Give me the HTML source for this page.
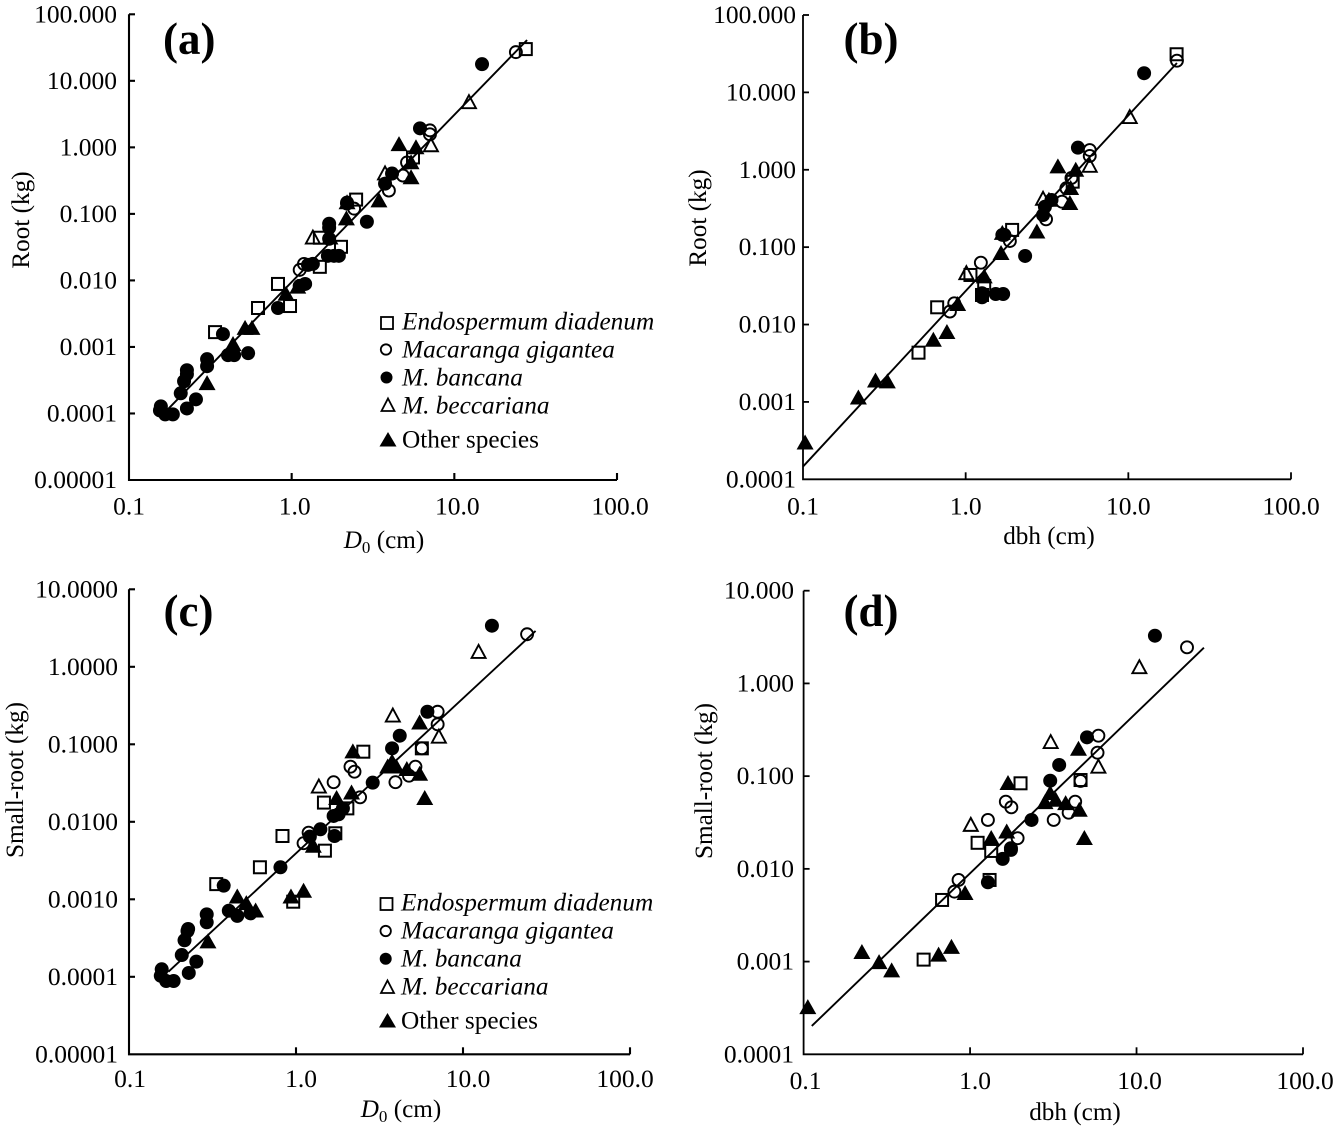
<!DOCTYPE html>
<html lang="en">
<head>
<meta charset="utf-8">
<title>Root biomass allometry</title>
<style>
html,body{margin:0;padding:0;background:#fff;}
svg{display:block;}
text{font-family:"Liberation Serif",serif;fill:#000;}
.tick{font-size:25.5px;}
.title{font-size:25.2px;}
.letter{font-size:45px;font-weight:bold;}
.leg{font-size:25.3px;font-style:italic;}
.legn{font-size:25.3px;}
</style>
</head>
<body>
<svg id="chart" xmlns="http://www.w3.org/2000/svg" width="1336" height="1128" viewBox="0 0 1336 1128">
  <rect width="1336" height="1128" fill="#fff"/>
  <text class="letter" x="163" y="54">(a)</text>
  <text class="letter" x="843.5" y="54">(b)</text>
  <text class="letter" x="163.5" y="626">(c)</text>
  <text class="letter" x="843.5" y="626">(d)</text>

  <text class="title" transform="translate(29,220) rotate(-90)" text-anchor="middle">Root (kg)</text>
  <text class="title" transform="translate(706,218) rotate(-90)" text-anchor="middle">Root (kg)</text>
  <text class="title" transform="translate(23,780) rotate(-90)" text-anchor="middle">Small-root (kg)</text>
  <text class="title" transform="translate(712,781) rotate(-90)" text-anchor="middle">Small-root (kg)</text>

  <text class="title" x="384" y="548" text-anchor="middle"><tspan font-style="italic">D</tspan><tspan font-size="17" dy="5">0</tspan><tspan dy="-5"> (cm)</tspan></text>
  <text class="title" x="1049" y="544" text-anchor="middle">dbh (cm)</text>
  <text class="title" x="401" y="1117" text-anchor="middle"><tspan font-style="italic">D</tspan><tspan font-size="17" dy="5">0</tspan><tspan dy="-5"> (cm)</tspan></text>
  <text class="title" x="1075" y="1120" text-anchor="middle">dbh (cm)</text>

  <g stroke="#000">
    <rect x="381" y="317" width="12" height="12" fill="none" stroke-width="1.8"/>
    <text class="leg" x="402" y="329.5" stroke="none">Endospermum diadenum</text>
    <circle cx="386" cy="349.5" r="5.2" fill="none" stroke-width="1.8"/>
    <text class="leg" x="402" y="357.5" stroke="none">Macaranga gigantea</text>
    <circle cx="386.5" cy="377.5" r="6" fill="#000" stroke="none"/>
    <text class="leg" x="402" y="385.5" stroke="none">M. bancana</text>
    <path d="M388 398.5 L394.5 411 L381.5 411 Z" fill="none" stroke-width="1.8"/>
    <text class="leg" x="402" y="413.5" stroke="none">M. beccariana</text>
    <path d="M388 432 L396.5 446.5 L379.5 446.5 Z" fill="#000" stroke="none"/>
    <text class="legn" x="402" y="447.5" stroke="none">Other species</text>
  </g>
  <g stroke="#000">
    <rect x="380.5" y="898" width="12" height="12" fill="none" stroke-width="1.8"/>
    <text class="leg" x="401" y="910.5" stroke="none">Endospermum diadenum</text>
    <circle cx="385.7" cy="931" r="5.2" fill="none" stroke-width="1.8"/>
    <text class="leg" x="401" y="938.5" stroke="none">Macaranga gigantea</text>
    <circle cx="385.7" cy="958.7" r="6" fill="#000" stroke="none"/>
    <text class="leg" x="401" y="966.5" stroke="none">M. bancana</text>
    <path d="M387.5 980.5 L394 993 L381 993 Z" fill="none" stroke-width="1.8"/>
    <text class="leg" x="401" y="994.5" stroke="none">M. beccariana</text>
    <path d="M387.5 1013 L396 1027.5 L379 1027.5 Z" fill="#000" stroke="none"/>
    <text class="legn" x="401" y="1028.5" stroke="none">Other species</text>
  </g>
</svg>
<script>
// ---- shared x ticks ----
const xTickValues = [0.1, 1, 10, 100];
const xTickLabels = ['0.1', '1.0', '10.0', '100.0'];

// ---- panel (a): Root vs D0 ----
const aYTickValues = [100, 10, 1, 0.1, 0.01, 0.001, 0.0001, 0.00001];
const aYTickLabels = ['100.000', '10.000', '1.000', '0.100', '0.010', '0.001', '0.0001', '0.00001'];
const aEndospermumX = [27.5, 2.49, 2.01, 1.49, 1.49, 0.824, 0.977, 0.621, 0.338, 5.57];
const aEndospermumY = [30, 0.164, 0.032, 0.016, 0.0438, 0.00885, 0.00412, 0.00385, 0.00167, 0.705];
const aGiganteaX = [23.9, 7.08, 7.08, 5.12, 4.83, 3.96, 2.19, 2.42, 1.19, 1.12];
const aGiganteaY = [27, 1.8, 1.57, 0.592, 0.377, 0.224, 0.148, 0.12, 0.0177, 0.0144];
const aBancanaX = [14.8, 6.15, 2.9, 1.7, 1.7, 1.7, 4.14, 3.75, 2.19, 1.67, 1.82, 1.95, 1.35, 1.26, 1.21, 1.12, 0.824, 0.378, 0.406, 0.443, 0.54, 0.302, 0.302, 0.227, 0.227, 0.218, 0.208, 0.227, 0.258, 0.186, 0.167, 0.155, 0.157];
const aBancanaY = [17.8, 1.93, 0.0762, 0.0711, 0.0619, 0.0423, 0.404, 0.285, 0.143, 0.0234, 0.0234, 0.0234, 0.0177, 0.0171, 0.00885, 0.00826, 0.00385, 0.00156, 0.000752, 0.000752, 0.000806, 0.000655, 0.000513, 0.000447, 0.000389, 0.000305, 0.000201, 0.000119, 0.000163, 0.0000969, 0.0000969, 0.000111, 0.000128];
const aBeccarianaX = [12.3, 7.18, 3.75, 1.35];
const aBeccarianaY = [4.75, 1.07, 0.404, 0.0438];
const aOtherX = [4.57, 5.81, 5.42, 5.42, 3.44, 2.17, 1.72, 2.19, 1.09, 0.923, 0.517, 0.57, 0.436, 0.436, 0.302];
const aOtherY = [1.11, 0.996, 0.592, 0.352, 0.158, 0.0847, 0.0438, 0.148, 0.00798, 0.00626, 0.00192, 0.00192, 0.0011, 0.00096, 0.000284];
const aFitX = [0.173, 28];
const aFitY = [0.000115, 41];

// ---- panel (b): Root vs dbh ----
const bYTickValues = [100, 10, 1, 0.1, 0.01, 0.001, 0.0001];
const bYTickLabels = ['100.000', '10.000', '1.000', '0.100', '0.010', '0.001', '0.0001'];
const bEndospermumX = [19.8, 1.93, 4.55, 1.07, 1.3, 1.26, 0.668, 0.513];
const bEndospermumY = [31.1, 0.167, 0.702, 0.0437, 0.0315, 0.0241, 0.0167, 0.00433];
const bGiganteaX = [19.9, 5.79, 5.79, 4.47, 4.16, 3.91, 3.12, 1.68, 1.87, 1.24, 0.851, 0.8];
const bGiganteaY = [25.7, 1.8, 1.51, 0.783, 0.577, 0.387, 0.229, 0.144, 0.12, 0.063, 0.0188, 0.0147];
const bBancanaX = [12.5, 4.9, 2.32, 3.37, 3.07, 2.99, 1.73, 1.26, 1.26, 1.53, 1.7];
const bBancanaY = [17.7, 1.93, 0.0769, 0.407, 0.333, 0.26, 0.144, 0.0225, 0.0254, 0.0248, 0.0248];
const bBeccarianaX = [10.2, 5.79, 2.99, 1.01];
const bBeccarianaY = [4.77, 1.12, 0.42, 0.0459];
const bOtherX = [3.69, 4.75, 4.42, 4.37, 2.74, 1.65, 1.3, 0.893, 0.767, 0.633, 0.279, 0.33, 0.219, 0.103, 1.68, 3.25];
const bOtherY = [1.1, 0.994, 0.577, 0.369, 0.158, 0.0834, 0.0416, 0.0183, 0.00794, 0.00631, 0.00188, 0.00183, 0.00113, 0.000297, 0.152, 0.407];
const bFitX = [0.1, 19.9];
const bFitY = [0.000146, 24];

// ---- panel (c): Small-root vs D0 ----
const cYTickValues = [10, 1, 0.1, 0.01, 0.001, 0.0001, 0.00001];
const cYTickLabels = ['10.0000', '1.0000', '0.1000', '0.0100', '0.0010', '0.0001', '0.00001'];
const cEndospermumX = [2.53, 5.67, 1.47, 2.03, 1.72, 0.83, 1.49, 0.608, 0.333, 0.962];
const cEndospermumY = [0.0803, 0.0887, 0.0177, 0.0149, 0.00711, 0.00656, 0.00424, 0.00259, 0.00157, 0.000931];
const cGiganteaX = [24.2, 7.05, 7.05, 5.19, 4.75, 3.94, 2.12, 2.24, 1.68, 2.42, 1.19, 1.11, 5.67];
const cGiganteaY = [2.63, 0.263, 0.181, 0.0514, 0.0393, 0.0324, 0.0514, 0.0443, 0.0324, 0.0207, 0.00724, 0.00529, 0.0887];
const cBancanaX = [14.9, 6.12, 4.18, 3.76, 2.88, 1.91, 1.8, 1.68, 1.4, 1.21, 1.7, 0.807, 0.369, 0.396, 0.445, 0.292, 0.292, 0.226, 0.224, 0.215, 0.207, 0.253, 0.228, 0.185, 0.167, 0.155, 0.157, 0.534];
const cBancanaY = [3.39, 0.263, 0.129, 0.0887, 0.032, 0.0149, 0.0125, 0.0119, 0.008, 0.00643, 0.00656, 0.00259, 0.0015, 0.000712, 0.00061, 0.00064, 0.000505, 0.000414, 0.00039, 0.000296, 0.000191, 0.000157, 0.000112, 0.0000883, 0.0000883, 0.000103, 0.000125, 0.000659];
const cBeccarianaX = [12.4, 3.8, 7.17, 1.37];
const cBeccarianaY = [1.55, 0.234, 0.125, 0.0284];
const cOtherX = [2.19, 5.5, 3.76, 3.54, 3.98, 4.61, 5.5, 5.9, 2.15, 1.75, 1.27, 1.11, 0.933, 0.445, 0.504, 0.573, 0.297];
const cOtherY = [0.0803, 0.19, 0.0596, 0.0514, 0.0514, 0.0476, 0.0414, 0.0201, 0.0237, 0.0201, 0.00487, 0.00128, 0.00108, 0.00108, 0.000887, 0.000712, 0.000284];
const cFitX = [0.172, 27.2];
const cFitY = [0.000116, 2.9];

// ---- panel (d): Small-root vs dbh ----
const dYTickValues = [10, 1, 0.1, 0.01, 0.001, 0.0001];
const dYTickLabels = ['10.000', '1.000', '0.100', '0.010', '0.001', '0.0001'];
const dEndospermumX = [2.01, 4.61, 1.11, 1.34, 1.31, 0.679, 0.526];
const dEndospermumY = [0.0837, 0.0908, 0.0191, 0.0156, 0.00759, 0.00462, 0.00105];
const dGiganteaX = [20.1, 5.9, 5.83, 4.28, 3.91, 3.18, 1.64, 1.77, 1.28, 1.93, 0.853, 0.805, 4.61];
const dGiganteaY = [2.45, 0.273, 0.179, 0.053, 0.0403, 0.0337, 0.053, 0.0461, 0.0337, 0.0214, 0.00759, 0.00568, 0.0888];
const dBancanaX = [12.9, 5.04, 3.43, 3.03, 2.34, 1.76, 1.76, 1.57, 1.28];
const dBancanaY = [3.27, 0.262, 0.132, 0.0893, 0.0337, 0.0167, 0.016, 0.0128, 0.00716];
const dBeccarianaX = [10.4, 3.05, 5.9, 1.01];
const dBeccarianaY = [1.49, 0.232, 0.126, 0.0297];
const dOtherX = [1.69, 4.48, 3.03, 2.82, 3.27, 3.75, 4.53, 4.86, 1.66, 1.34, 0.933, 0.773, 0.647, 0.224, 0.284, 0.338, 0.106];
const dOtherY = [0.0837, 0.196, 0.0653, 0.0522, 0.0553, 0.0509, 0.0431, 0.0214, 0.0251, 0.0214, 0.00545, 0.00143, 0.00118, 0.00126, 0.00098, 0.000798, 0.000321];
const dFitX = [0.112, 25.4];
const dFitY = [0.000202, 2.43];

const NS = 'http://www.w3.org/2000/svg';
const root = document.getElementById('chart');

function make(tag, parent) {
  const el = document.createElementNS(NS, tag);
  parent.appendChild(el);
  return el;
}

function linearLog(domainMin, domainMax, pxMin, pxMax) {
  const a = Math.log10(domainMin), b = Math.log10(domainMax);
  return function (v) { return pxMin + (Math.log10(v) - a) / (b - a) * (pxMax - pxMin); };
}

function drawAxes(g, p, xs, ys) {
  const axis = make('path', g);
  
  
  axis.setAttribute('d', 'M' + p.left + ' ' + p.top + ' V' + p.bottom + ' H' + p.right);
  axis.setAttribute('fill', 'none');
  axis.setAttribute('stroke', '#000');
  axis.setAttribute('stroke-width', p.axisWidth);

  p.xTicks.forEach(function (v, i) {
    const x = xs(v);
    if (i > 0) {
      const t = make('line', g);
      
      
      t.setAttribute('x1', x);
      t.setAttribute('x2', x);
      t.setAttribute('y1', p.bottom);
      t.setAttribute('y2', p.bottom - 7);
      t.setAttribute('stroke', '#000');
      t.setAttribute('stroke-width', p.axisWidth);
    }
    const label = make('text', g);
    
    
    label.setAttribute('class', 'tick');
    label.setAttribute('x', x + p.xLabelShifts[i]);
    label.setAttribute('y', p.xLabelBaseline);
    label.setAttribute('text-anchor', 'middle');
    label.textContent = p.xLabels[i];
  });

  p.yTicks.forEach(function (v, i) {
    const y = ys(v);
    if (i < p.yTicks.length - 1) {
      const t = make('line', g);
      
      
      t.setAttribute('x1', p.left);
      t.setAttribute('x2', p.left + 6);
      t.setAttribute('y1', y);
      t.setAttribute('y2', y);
      t.setAttribute('stroke', '#000');
      t.setAttribute('stroke-width', p.axisWidth);
    }
    const label = make('text', g);
    
    
    label.setAttribute('class', 'tick');
    label.setAttribute('x', p.yLabelRight);
    label.setAttribute('y', y + 8);
    label.setAttribute('text-anchor', 'end');
    label.textContent = p.yLabels[i];
  });
}

function drawFit(g, xsData, ysData, xs, ys) {
  const line = make('line', g);
  
  
  line.setAttribute('x1', xs(xsData[0]));
  line.setAttribute('y1', ys(ysData[0]));
  line.setAttribute('x2', xs(xsData[1]));
  line.setAttribute('y2', ys(ysData[1]));
  line.setAttribute('stroke', '#000');
  line.setAttribute('stroke-width', 1.9);
}

function drawSquares(g, xv, yv, xs, ys) {
  xv.forEach(function (v, i) {
    const el = make('rect', g);
    
    
    el.setAttribute('x', xs(v) - 6);
    el.setAttribute('y', ys(yv[i]) - 6);
    el.setAttribute('width', 12);
    el.setAttribute('height', 12);
    el.setAttribute('fill', 'none');
    el.setAttribute('stroke', '#000');
    el.setAttribute('stroke-width', 2);
  });
}

function drawOpenCircles(g, xv, yv, xs, ys) {
  xv.forEach(function (v, i) {
    const el = make('circle', g);
    
    
    el.setAttribute('cx', xs(v));
    el.setAttribute('cy', ys(yv[i]));
    el.setAttribute('r', 6);
    el.setAttribute('fill', 'none');
    el.setAttribute('stroke', '#000');
    el.setAttribute('stroke-width', 1.9);
  });
}

function drawFilledCircles(g, xv, yv, xs, ys) {
  xv.forEach(function (v, i) {
    const el = make('circle', g);
    
    
    el.setAttribute('cx', xs(v));
    el.setAttribute('cy', ys(yv[i]));
    el.setAttribute('r', 7);
    el.setAttribute('fill', '#000');
  });
}

function triangle(cx, cy, half, h) {
  return 'M' + cx + ' ' + (cy - h * 0.55) + ' L' + (cx + half) + ' ' + (cy + h * 0.45) + ' L' + (cx - half) + ' ' + (cy + h * 0.45) + ' Z';
}

function drawOpenTriangles(g, xv, yv, xs, ys) {
  xv.forEach(function (v, i) {
    const el = make('path', g);
    
    
    el.setAttribute('d', triangle(xs(v), ys(yv[i]), 7, 13));
    el.setAttribute('fill', 'none');
    el.setAttribute('stroke', '#000');
    el.setAttribute('stroke-width', 1.9);
  });
}

function drawFilledTriangles(g, xv, yv, xs, ys) {
  xv.forEach(function (v, i) {
    const el = make('path', g);
    
    
    el.setAttribute('d', triangle(xs(v), ys(yv[i]), 8.5, 15));
    el.setAttribute('fill', '#000');
  });
}

function drawPanel(p) {
  const g = make('g', root);
  
  
  const xs = linearLog(p.xTicks[0], p.xTicks[p.xTicks.length - 1], p.left, p.right);
  const ys = linearLog(p.yTicks[p.yTicks.length - 1], p.yTicks[0], p.bottom, p.top);
  drawAxes(g, p, xs, ys);
  drawFit(g, p.fitX, p.fitY, xs, ys);
  drawSquares(g, p.sqX, p.sqY, xs, ys);
  drawOpenCircles(g, p.ocX, p.ocY, xs, ys);
  drawFilledCircles(g, p.fcX, p.fcY, xs, ys);
  drawOpenTriangles(g, p.otX, p.otY, xs, ys);
  drawFilledTriangles(g, p.ftX, p.ftY, xs, ys);
}

drawPanel({
  name: 'panel-a-root-vs-d0', left: 129, right: 617, top: 14.3, bottom: 480, axisWidth: 2.1,
  xLabelShifts: [0, 3, 3, 3], xLabelBaseline: 514.5, yLabelRight: 117,
  xTicks: xTickValues, xLabels: xTickLabels, yTicks: aYTickValues, yLabels: aYTickLabels,
  fitX: aFitX, fitY: aFitY, sqX: aEndospermumX, sqY: aEndospermumY, ocX: aGiganteaX, ocY: aGiganteaY,
  fcX: aBancanaX, fcY: aBancanaY, otX: aBeccarianaX, otY: aBeccarianaY, ftX: aOtherX, ftY: aOtherY
});
drawPanel({
  name: 'panel-b-root-vs-dbh', left: 803, right: 1291, top: 15, bottom: 479.3, axisWidth: 1.8,
  xLabelShifts: [0, 0, 0, 0], xLabelBaseline: 514.5, yLabelRight: 796,
  xTicks: xTickValues, xLabels: xTickLabels, yTicks: bYTickValues, yLabels: bYTickLabels,
  fitX: bFitX, fitY: bFitY, sqX: bEndospermumX, sqY: bEndospermumY, ocX: bGiganteaX, ocY: bGiganteaY,
  fcX: bBancanaX, fcY: bBancanaY, otX: bBeccarianaX, otY: bBeccarianaY, ftX: bOtherX, ftY: bOtherY
});
drawPanel({
  name: 'panel-c-small-root-vs-d0', left: 129, right: 630, top: 589.3, bottom: 1054.3, axisWidth: 2.1,
  xLabelShifts: [1, 5, 5, -5], xLabelBaseline: 1087, yLabelRight: 118,
  xTicks: xTickValues, xLabels: xTickLabels, yTicks: cYTickValues, yLabels: cYTickLabels,
  fitX: cFitX, fitY: cFitY, sqX: cEndospermumX, sqY: cEndospermumY, ocX: cGiganteaX, ocY: cGiganteaY,
  fcX: cBancanaX, fcY: cBancanaY, otX: cBeccarianaX, otY: cBeccarianaY, ftX: cOtherX, ftY: cOtherY
});
drawPanel({
  name: 'panel-d-small-root-vs-dbh', left: 803.6, right: 1303, top: 590.7, bottom: 1054.3, axisWidth: 1.8,
  xLabelShifts: [2, 5, 3, 2], xLabelBaseline: 1089, yLabelRight: 794,
  xTicks: xTickValues, xLabels: xTickLabels, yTicks: dYTickValues, yLabels: dYTickLabels,
  fitX: dFitX, fitY: dFitY, sqX: dEndospermumX, sqY: dEndospermumY, ocX: dGiganteaX, ocY: dGiganteaY,
  fcX: dBancanaX, fcY: dBancanaY, otX: dBeccarianaX, otY: dBeccarianaY, ftX: dOtherX, ftY: dOtherY
});
</script>
</body>
</html>
